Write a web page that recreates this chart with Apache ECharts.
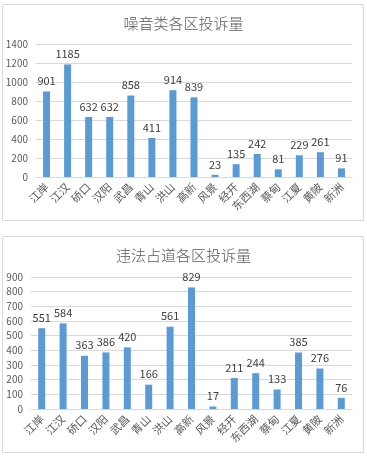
<!DOCTYPE html>
<html>
<head>
<meta charset="utf-8">
<script src="https://cdn.jsdelivr.net/npm/echarts@6/dist/echarts.min.js"></script>
<style>
html,body{margin:0;padding:0;background:#fff;}
#main{width:367px;height:462px;}
</style>
</head>
<body>
<div id="main"></div>
<script>
const districts = ['江岸','江汉','硚口','汉阳','武昌','青山','洪山','高新','风景','经开','东西湖','蔡甸','江夏','黄陂','新洲'];
const noiseValues = [901,1185,632,632,858,411,914,839,23,135,242,81,229,261,91];
const roadValues = [551,584,363,386,420,166,561,829,17,211,244,133,385,276,76];
const noiseTitle = '噪音类各区投诉量';
const roadTitle = '违法占道各区投诉量';

const colorSets = {
    text: '#595959',
    label: '#404040',
    line: '#d9d9d9',
    bar: '#5b9bd5',
    border: '#d9d9d9'
};
const fontFamily = '"Noto Sans CJK SC", sans-serif';

function makeXAxis(gridIndex) {
    return {
        type: 'category',
        gridIndex: gridIndex,
        data: districts,
        axisTick: { show: false },
        axisLine: { lineStyle: { color: colorSets.line } },
        axisLabel: {
            rotate: 45,
            interval: 0,
            fontSize: 11,
            margin: 8,
            color: colorSets.text,
            fontFamily: fontFamily
        }
    };
}
function makeYAxis(gridIndex, max, interval) {
    return {
        type: 'value',
        gridIndex: gridIndex,
        min: 0,
        max: max,
        interval: interval,
        axisLine: { show: false },
        axisTick: { show: false },
        splitLine: { lineStyle: { color: colorSets.line } },
        axisLabel: {
            fontSize: 10,
            color: colorSets.text,
            margin: 8,
            fontFamily: fontFamily,
            formatter: v => String(v)
        }
    };
}
function makeSeries(index, data) {
    return {
        type: 'bar',
        xAxisIndex: index,
        yAxisIndex: index,
        data: data,
        barWidth: 7,
        itemStyle: { color: colorSets.bar },
        label: {
            show: true,
            position: 'top',
            distance: 5,
            fontSize: 11,
            color: colorSets.label,
            fontFamily: fontFamily
        }
    };
}

const chart = echarts.init(document.getElementById('main'));
chart.setOption({
    animation: false,
    title: [
        {
            text: noiseTitle, left: 'center', top: 11,
            textStyle: { fontSize: 15, fontWeight: 300, color: colorSets.text, fontFamily: fontFamily }
        },
        {
            text: roadTitle, left: 'center', top: 243,
            textStyle: { fontSize: 15, fontWeight: 300, color: colorSets.text, fontFamily: fontFamily }
        }
    ],
    graphic: [
        { type: 'rect', shape: { x: 2.5, y: 4.5, width: 361, height: 216 }, style: { fill: 'none', stroke: colorSets.border, lineWidth: 1 } },
        { type: 'rect', shape: { x: 2.5, y: 236.5, width: 361, height: 216 }, style: { fill: 'none', stroke: colorSets.border, lineWidth: 1 } }
    ],
    grid: [
        { left: 36, right: 15, top: 44, height: 133 },
        { left: 31, right: 15, top: 277, height: 132 }
    ],
    xAxis: [makeXAxis(0), makeXAxis(1)],
    yAxis: [makeYAxis(0, 1400, 200), makeYAxis(1, 900, 100)],
    series: [makeSeries(0, noiseValues), makeSeries(1, roadValues)]
});
</script>
</body>
</html>
